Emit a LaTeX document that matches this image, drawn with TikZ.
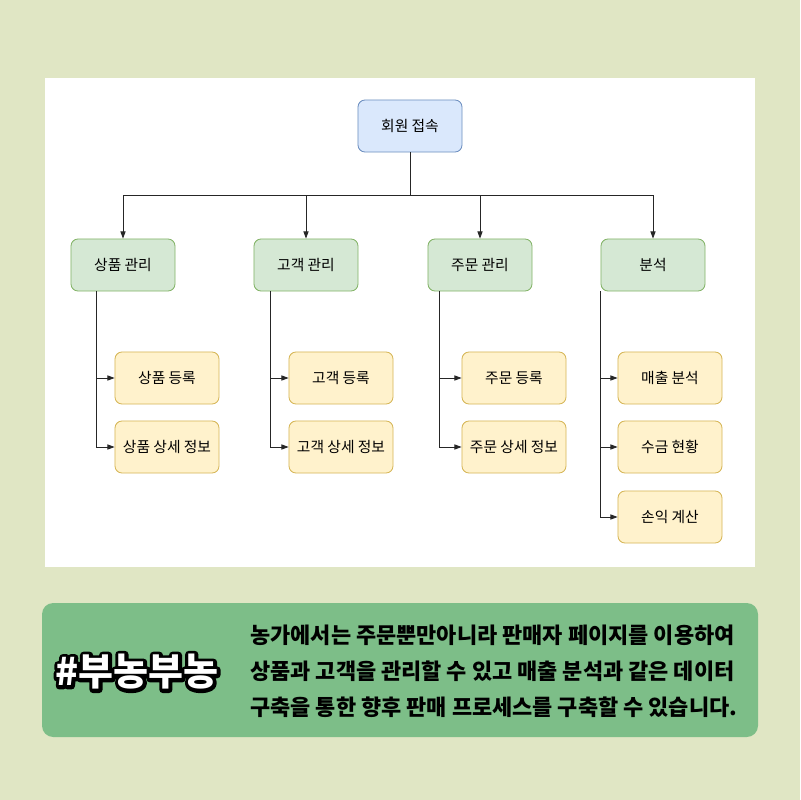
\documentclass[tikz,border=0pt]{standalone}
\usepackage{fontspec}
\setmainfont{Noto Sans CJK KR}
\usetikzlibrary{arrows.meta, positioning}
\definecolor{pagebg}{RGB}{224,230,196}
\definecolor{notegreen}{RGB}{125,190,136}
\definecolor{rootfill}{RGB}{218,232,252}
\definecolor{rootline}{RGB}{108,142,191}
\definecolor{grpfill}{RGB}{213,232,212}
\definecolor{grpline}{RGB}{130,179,102}
\definecolor{itemfill}{RGB}{255,242,204}
\definecolor{itemline}{RGB}{214,182,86}

% white text with a black rim (stroked copy underneath)
\newcommand\rimtext[1]{%
  \leavevmode
  \rlap{\color{black}\special{pdf:literal direct 1 j 1 J 5 w 0 0 0 RG 2 Tr}#1\special{pdf:literal direct 0 Tr}}%
  {\color{white}#1}}

\begin{document}
\begin{tikzpicture}[
    x=0.025cm, y=-0.025cm,
    box/.style={rectangle, rounded corners=5pt, line width=0.6pt, minimum width=2.6cm, minimum height=1.3cm, align=center, font=\fontsize{10.5}{12}\selectfont},
    root/.style={box, draw=rootline, fill=rootfill},
    group/.style={box, draw=grpline, fill=grpfill},
    item/.style={box, draw=itemline, fill=itemfill},
    arrow/.style={-{Triangle[length=1.8mm, width=1.3mm]}, line width=0.6pt, black!85},
    wire/.style={line width=0.6pt, black!85}
]
\useasboundingbox (0,0) rectangle (800,800);
\fill[pagebg] (0,0) rectangle (800,800);
\fill[white] (45,78) rectangle (755,567);

% Root
\node[root] (login) at (410,126) {회원 접속};

% Groups
\node[group] (prod) at (123,265) {상품 관리};
\node[group] (cust) at (306,265) {고객 관리};
\node[group] (order) at (480,265) {주문 관리};
\node[group] (anal) at (653,265) {분석};

% Items
\node[item] (prodreg) at (167,378) {상품 등록};
\node[item] (proddet) at (167,447) {상품 상세 정보};
\node[item] (custreg) at (341,378) {고객 등록};
\node[item] (custdet) at (341,447) {고객 상세 정보};
\node[item] (ordreg) at (514,378) {주문 등록};
\node[item] (orddet) at (514,447) {주문 상세 정보};
\node[item] (sales) at (670,378) {매출 분석};
\node[item] (income) at (670,447) {수금 현황};
\node[item] (profit) at (670,517) {손익 계산};

% Arrows
\coordinate (bus) at (410,195);
\draw[wire] (login) -- (bus);
\draw[arrow] (bus) -| (prod);
\draw[arrow] (bus) -| (cust);
\draw[arrow] (bus) -| (order);
\draw[arrow] (bus) -| (anal);

\draw[arrow] ([xshift=0.65cm]prod.south west) |- (prodreg);
\draw[arrow] ([xshift=0.65cm]prod.south west) |- (proddet);
\draw[arrow] ([xshift=0.43cm]cust.south west) |- (custreg);
\draw[arrow] ([xshift=0.43cm]cust.south west) |- (custdet);
\draw[arrow] ([xshift=0.3cm]order.south west) |- (ordreg);
\draw[arrow] ([xshift=0.3cm]order.south west) |- (orddet);
\draw[arrow] (anal.south west) |- (sales);
\draw[arrow] (anal.south west) |- (income);
\draw[arrow] (anal.south west) |- (profit);

% Note
\fill[notegreen, rounded corners=8pt] (42,603) rectangle (758,737);
\node[font=\fontsize{27}{30}\selectfont\bfseries] (tag) at (137,672) {\rimtext{\#부농부농}};
\node[anchor=west, align=left, inner sep=0pt, font=\fontsize{15.6}{25.6}\selectfont\bfseries] (note) at (250,671)
  {농가에서는 주문뿐만아니라 판매자 페이지를 이용하여\\
   상품과 고객을 관리할 수 있고 매출 분석과 같은 데이터\\
   구축을 통한 향후 판매 프로세스를 구축할 수 있습니다.};
\end{tikzpicture}
\end{document}
